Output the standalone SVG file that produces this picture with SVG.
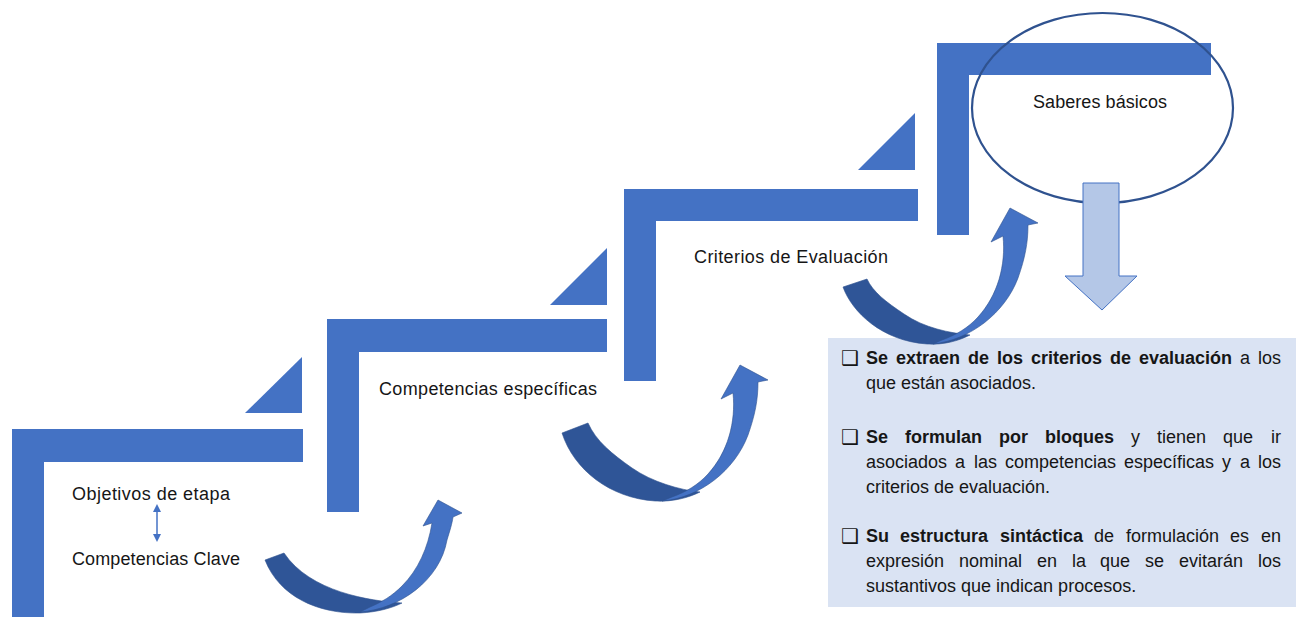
<svg xmlns="http://www.w3.org/2000/svg" width="1297" height="617" viewBox="0 0 1297 617">
<style>
.bar{fill:#4472C4}
.lbl{font-family:"Liberation Sans",Arial,sans-serif;font-size:18px;fill:#161616}
.box{font-family:"Liberation Sans",Arial,sans-serif;font-size:18px;fill:#161616}
.b{font-weight:bold}
.chk{font-family:"DejaVu Sans",sans-serif;font-size:20px;fill:#161616}
.dark{fill:#2F5597;stroke:#2F528F;stroke-width:0.6}
.light{fill:#4472C4;stroke:#2F528F;stroke-width:0.6}
</style>
<defs>
<marker id="ah" markerWidth="8" markerHeight="8" refX="1" refY="4" orient="auto-start-reverse" markerUnits="userSpaceOnUse">
<path d="M0,0 L8,4 L0,8 Z" fill="#4472C4"/>
</marker>
</defs>
<rect width="1297" height="617" fill="#ffffff"/>

<g id="step1">
<polygon class="bar" points="12,429 303,429 303,462 44,462 44,617 12,617"/>
<polygon class="bar" points="245,413 302,413 302,357"/>
<text class="lbl" x="72" y="500" textLength="158">Objetivos de etapa</text>
<text class="lbl" x="72" y="565" textLength="168">Competencias Clave</text>
</g>

<g id="step2">
<polygon class="bar" points="327,319 607,319 607,352 359,352 359,512 327,512"/>
<polygon class="bar" points="550,305 607,305 607,248"/>
<text class="lbl" x="379" y="395" textLength="218">Competencias específicas</text>
</g>

<g id="step3">
<polygon class="bar" points="624,189 918,189 918,221 656,221 656,381 624,381"/>
<polygon class="bar" points="858,170 915,170 915,113"/>
<text class="lbl" x="694" y="263" textLength="194">Criterios de Evaluación</text>
</g>

<g id="step4">
<polygon class="bar" points="937,43 1211,43 1211,75 969,75 969,235 937,235"/>
</g>

<g id="saberes">
<ellipse cx="1102.5" cy="108" rx="130.5" ry="95" fill="none" stroke="#2F528F" stroke-width="2.2"/>
<text class="lbl" x="1033" y="108" textLength="134">Saberes básicos</text>
</g>

<g id="infobox">
<rect x="828" y="338" width="468" height="269" fill="#DAE3F3"/>
<text class="chk" x="841" y="365">❑</text>
<text class="box" y="364"><tspan class="b" x="866">Se</tspan><tspan class="b" x="896">extraen</tspan><tspan class="b" x="968">de</tspan><tspan class="b" x="997">los</tspan><tspan class="b" x="1031">criterios</tspan><tspan class="b" x="1110">de</tspan><tspan class="b" x="1139">evaluación</tspan><tspan x="1240">a</tspan><tspan x="1258">los</tspan></text>
<text class="box" x="866" y="389">que están asociados.</text>
<text class="chk" x="841" y="444">❑</text>
<text class="box" y="443"><tspan class="b" x="866">Se</tspan><tspan class="b" x="905">formulan</tspan><tspan class="b" x="999">por</tspan><tspan class="b" x="1045">bloques</tspan><tspan x="1131">y</tspan><tspan x="1157">tienen</tspan><tspan x="1223">que</tspan><tspan x="1271">ir</tspan></text>
<text class="box" y="468"><tspan x="866">asociados</tspan><tspan x="955">a</tspan><tspan x="974">las</tspan><tspan x="1005">competencias</tspan><tspan x="1124">específicas</tspan><tspan x="1222">y</tspan><tspan x="1240">a</tspan><tspan x="1258">los</tspan></text>
<text class="box" x="866" y="493">criterios de evaluación.</text>
<text class="chk" x="841" y="543">❑</text>
<text class="box" y="542"><tspan class="b" x="866">Su</tspan><tspan class="b" x="900">estructura</tspan><tspan class="b" x="1000">sintáctica</tspan><tspan x="1094">de</tspan><tspan x="1126">formulación</tspan><tspan x="1230">es</tspan><tspan x="1261">en</tspan></text>
<text class="box" y="567"><tspan x="866">expresión</tspan><tspan x="959">nominal</tspan><tspan x="1037">en</tspan><tspan x="1072">la</tspan><tspan x="1100">que</tspan><tspan x="1145">se</tspan><tspan x="1179">evitarán</tspan><tspan x="1258">los</tspan></text>
<text class="box" x="866" y="592">sustantivos que indican procesos.</text>
</g>

<g id="connectors">
<line x1="157" y1="511" x2="157" y2="535" stroke="#4472C4" stroke-width="1.5" marker-start="url(#ah)" marker-end="url(#ah)"/>
<g id="curved1">
<path class="dark" d="M265,560 C280,598 320,614 360,613 C378,612 392,608 402,603 C370,601 310,592 284,553 Z"/>
<path class="light" d="M360,612 C400,609 440,580 447,540 C450,530 452,524 453,517 L462,513 L438,500 L423,526 L432,523 C428,548 418,570 402,586 C392,596 382,602 370,607 Z"/>
</g>
<g id="curved2">
<path class="dark" d="M562,433 C574,470 610,498 655,501 C672,502 688,498 700,492 C680,490 652,482 632,468 C612,454 596,441 588,423 Z"/>
<path class="light" d="M662,501 C700,498 735,470 748,435 C755,415 758,400 758,382 L768,380 L740,365 L721,399 L733,393 C736,422 728,452 708,474 C698,485 686,492 672,497 Z"/>
</g>
<g id="curved3">
<path class="dark" d="M843,287 C852,312 882,341 927,344 C944,345 958,341 970,335 C950,333 924,328 904,314 C886,302 873,292 867,279 Z"/>
<path class="light" d="M933,344 C970,340 1005,313 1018,278 C1025,258 1028,243 1028,225 L1038,223 L1010,208 L991,242 L1003,236 C1006,265 998,295 978,317 C968,328 956,335 942,340 Z"/>
</g>
<path id="downarrow" d="M1083,183 L1119,183 L1119,276 L1137,276 L1102,310 L1065,276 L1083,276 Z" fill="#B4C7E7" stroke="#4472C4" stroke-width="1"/>
</g>
</svg>
